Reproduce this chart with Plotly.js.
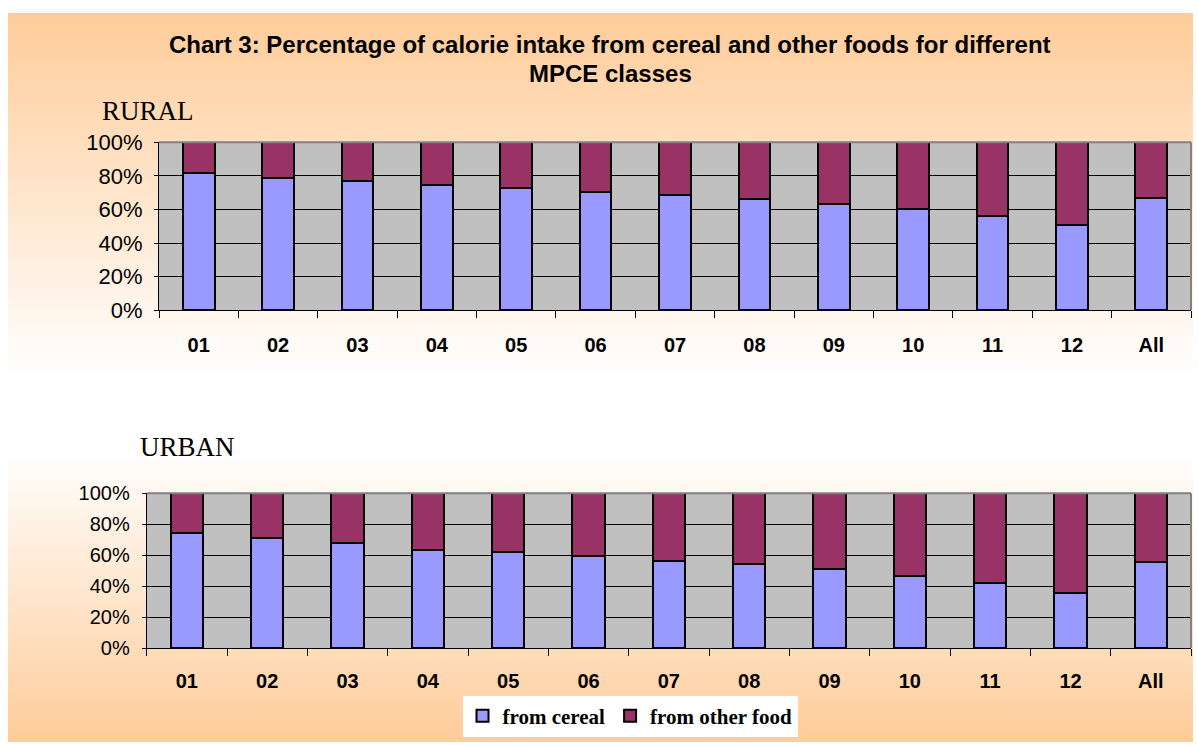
<!DOCTYPE html>
<html>
<head>
<meta charset="utf-8">
<script src="https://cdn.plot.ly/plotly-3.0.1.min.js"></script>
<style>
  html, body { margin: 0; padding: 0; background: #ffffff; }
  #bg { position: absolute; left: 8px; top: 13px; width: 1185px; height: 729px;
        background: linear-gradient(to bottom, #FFCC99 0%, #FFFFFF 50%, #FFFFFF 60%, #FFCC99 100%); }
  #chart { position: absolute; left: 0; top: 0; width: 1198px; height: 746px; }
</style>
</head>
<body>
<div id="bg"></div>
<div id="chart"></div>
<script>
const categories = ['01','02','03','04','05','06','07','08','09','10','11','12','All'];
const ruralCereal = [81.5, 78.9, 77.0, 74.4, 72.8, 70.4, 68.5, 66.3, 63.3, 60.5, 56.3, 50.8, 67.0];
const ruralOther  = [18.5, 21.1, 23.0, 25.6, 27.2, 29.6, 31.5, 33.7, 36.7, 39.5, 43.7, 49.2, 33.0];
const urbanCereal = [74.1, 71.1, 67.9, 63.3, 62.1, 59.5, 56.2, 54.1, 50.9, 46.5, 42.0, 35.8, 55.4];
const urbanOther  = [25.9, 28.9, 32.1, 36.7, 37.9, 40.5, 43.8, 45.9, 49.1, 53.5, 58.0, 64.2, 44.6];
const seriesNames = ['from cereal', 'from other food'];
const yTicks = [0, 20, 40, 60, 80, 100];
const yTickText = ['0%', '20%', '40%', '60%', '80%', '100%'];

const cerealColor = '#9999FF';
const otherColor = '#993366';
const barLine = { color: '#000000', width: 2 };

const traces = [
  { type: 'bar', x: categories, y: ruralCereal, name: seriesNames[0], xaxis: 'x', yaxis: 'y',
    marker: { color: cerealColor, line: barLine }, legendgroup: 'c', hoverinfo: 'x+y' },
  { type: 'bar', x: categories, y: ruralOther, name: seriesNames[1], xaxis: 'x', yaxis: 'y',
    marker: { color: otherColor, line: barLine }, legendgroup: 'o', hoverinfo: 'x+y' },
  { type: 'bar', x: categories, y: urbanCereal, name: seriesNames[0], xaxis: 'x2', yaxis: 'y2',
    marker: { color: cerealColor, line: barLine }, legendgroup: 'c', showlegend: false, hoverinfo: 'x+y' },
  { type: 'bar', x: categories, y: urbanOther, name: seriesNames[1], xaxis: 'x2', yaxis: 'y2',
    marker: { color: otherColor, line: barLine }, legendgroup: 'o', showlegend: false, hoverinfo: 'x+y' }
];

const W = 1198, H = 746;
function px(x) { return x / W; }
function py(y) { return (H - y) / H; }

const xCommon = {
  type: 'category', showgrid: false, showline: true, linecolor: '#000000', linewidth: 1,
  ticks: 'outside', tickson: 'boundaries', ticklen: 7, tickcolor: '#000000', tickwidth: 1,
  tickfont: { family: 'Liberation Sans, Arial, sans-serif', size: 20, color: '#000000', weight: 'bold' },
  fixedrange: true, zeroline: false
};
const yCommon = {
  range: [0, 100], tickvals: yTicks, ticktext: yTickText, showgrid: true, gridcolor: '#000000', gridwidth: 1,
  showline: true, linecolor: '#000000', linewidth: 1, ticks: 'outside', ticklen: 4, tickcolor: '#000000',
  zeroline: false, fixedrange: true
};

const layout = {
  width: W, height: H,
  margin: { l: 0, r: 0, t: 0, b: 0 },
  paper_bgcolor: 'rgba(0,0,0,0)',
  plot_bgcolor: '#C0C0C0',
  barmode: 'stack',
  bargap: 0.6,
  showlegend: true,
  legend: {
    orientation: 'h', x: px(630), y: py(716), xanchor: 'center', yanchor: 'middle',
    bgcolor: '#FFFFFF', borderwidth: 0,
    font: { family: 'Liberation Serif, Times New Roman, serif', size: 21, color: '#000000', weight: 'bold' },
    itemclick: false, itemdoubleclick: false
  },
  xaxis: Object.assign({}, xCommon, { domain: [px(159), px(1191)], anchor: 'y', ticklabelstandoff: 17 }),
  yaxis: Object.assign({}, yCommon, { domain: [py(310.3), py(142.3)], anchor: 'x', ticklabelstandoff: 7,
    tickfont: { family: 'Liberation Sans, Arial, sans-serif', size: 22, color: '#000000' } }),
  xaxis2: Object.assign({}, xCommon, { domain: [px(146.7), px(1191)], anchor: 'y2', ticklabelstandoff: 15 }),
  yaxis2: Object.assign({}, yCommon, { domain: [py(648), py(493.3)], anchor: 'x2', ticklabelstandoff: 8,
    tickfont: { family: 'Liberation Sans, Arial, sans-serif', size: 20, color: '#000000' } }),
  shapes: [
    { type: 'line', xref: 'x domain', yref: 'y domain', x0: 0, x1: 1, y0: 1, y1: 1, line: { color: '#808080', width: 2 } },
    { type: 'line', xref: 'x domain', yref: 'y domain', x0: 1, x1: 1, y0: 0, y1: 1, line: { color: '#808080', width: 2 } },
    { type: 'line', xref: 'x2 domain', yref: 'y2 domain', x0: 0, x1: 1, y0: 1, y1: 1, line: { color: '#808080', width: 2 } },
    { type: 'line', xref: 'x2 domain', yref: 'y2 domain', x0: 1, x1: 1, y0: 0, y1: 1, line: { color: '#808080', width: 2 } }
  ],
  annotations: [
    { text: 'Chart 3: Percentage of calorie intake from cereal and other foods for different', xref: 'paper', yref: 'paper',
      x: px(610), y: py(44), xanchor: 'center', yanchor: 'middle', showarrow: false,
      font: { family: 'Liberation Sans, Arial, sans-serif', size: 24, color: '#000000', weight: 'bold' } },
    { text: 'MPCE classes', xref: 'paper', yref: 'paper',
      x: px(610), y: py(74), xanchor: 'center', yanchor: 'middle', showarrow: false,
      font: { family: 'Liberation Sans, Arial, sans-serif', size: 24, color: '#000000', weight: 'bold' } },
    { text: 'RURAL', xref: 'paper', yref: 'paper', x: px(100), y: py(111), xanchor: 'left', yanchor: 'middle', showarrow: false,
      font: { family: 'Liberation Serif, Times New Roman, serif', size: 27, color: '#000000' } },
    { text: 'URBAN', xref: 'paper', yref: 'paper', x: px(138), y: py(447), xanchor: 'left', yanchor: 'middle', showarrow: false,
      font: { family: 'Liberation Serif, Times New Roman, serif', size: 27, color: '#000000' } }
  ]
};

Plotly.newPlot('chart', traces, layout, { staticPlot: false, displayModeBar: false, responsive: false });
</script>
</body>
</html>
